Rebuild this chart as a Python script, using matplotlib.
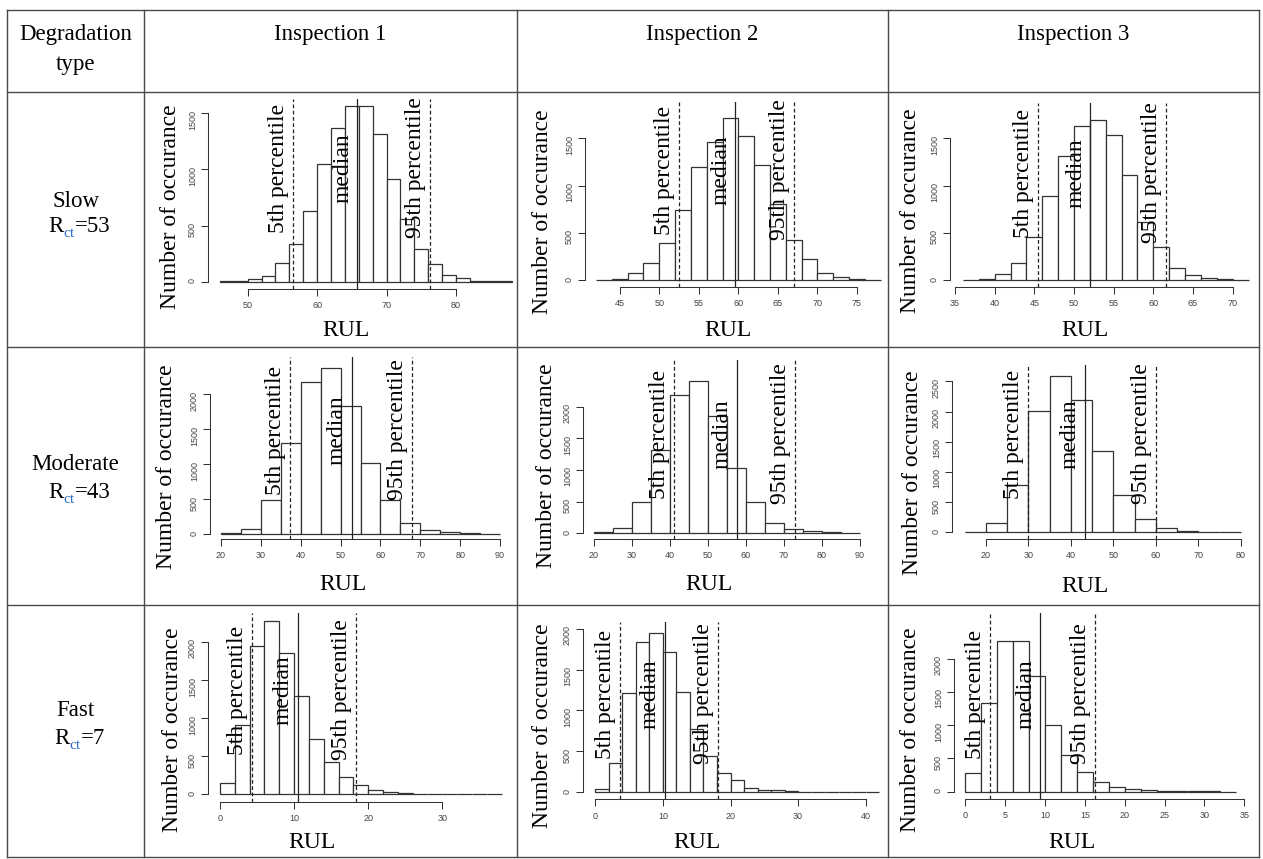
"""RUL histograms per degradation type and inspection, laid out as a table."""

import matplotlib
matplotlib.use("Agg")
import matplotlib.pyplot as plt
from matplotlib.transforms import blended_transform_factory

# ---------------------------------------------------------------------------
# Data
# ---------------------------------------------------------------------------
ROW_NAMES = ["Slow", "Moderate", "Fast"]
ROW_RCT = [53, 43, 7]
COL_NAMES = ["Inspection 1", "Inspection 2", "Inspection 3"]
PCT_LABELS = ["5th percentile", "median", "95th percentile"]

SLOW_1_START, SLOW_1_WIDTH = 46, 2
SLOW_1_COUNTS = [2, 5, 20, 50, 170, 336, 634, 1045, 1366, 1563, 1569, 1312,
                 911, 562, 295, 158, 60, 30, 9, 4, 2]
SLOW_1_PCT = [56.5, 65.75, 76.2]
SLOW_1_XTICKS = [50, 60, 70, 80]
SLOW_1_YTICKS = [0, 500, 1000, 1500]

SLOW_2_START, SLOW_2_WIDTH = 42, 2
SLOW_2_COUNTS = [5, 12, 70, 176, 388, 741, 1193, 1461, 1711, 1528, 1217, 800,
                 420, 219, 74, 28, 10, 3]
SLOW_2_PCT = [52.5, 59.6, 67.0]
SLOW_2_XTICKS = [45, 50, 55, 60, 65, 70, 75]
SLOW_2_YTICKS = [0, 500, 1000, 1500]

SLOW_3_START, SLOW_3_WIDTH = 36, 2
SLOW_3_COUNTS = [3, 10, 64, 180, 459, 889, 1316, 1627, 1690, 1531, 1115, 617,
                 346, 124, 49, 18, 7, 3]
SLOW_3_PCT = [45.4, 52.06, 61.6]
SLOW_3_XTICKS = [35, 40, 45, 50, 55, 60, 65, 70]
SLOW_3_YTICKS = [0, 500, 1000, 1500]

MOD_1_START, MOD_1_WIDTH = 20, 5
MOD_1_COUNTS = [14, 81, 486, 1300, 2181, 2371, 1829, 1024, 495, 162, 67, 29, 14, 5]
MOD_1_PCT = [37.4, 52.8, 67.9]
MOD_1_XTICKS = [20, 30, 40, 50, 60, 70, 80, 90]
MOD_1_YTICKS = [0, 500, 1000, 1500, 2000]

MOD_2_START, MOD_2_WIDTH = 20, 5
MOD_2_COUNTS = [16, 89, 489, 1311, 2189, 2400, 1847, 1026, 500, 158, 74, 32, 16, 5]
MOD_2_PCT = [41.1, 57.7, 73.1]
MOD_2_XTICKS = [20, 30, 40, 50, 60, 70, 80, 90]
MOD_2_YTICKS = [0, 500, 1000, 1500, 2000]

MOD_3_START, MOD_3_WIDTH = 15, 5
MOD_3_COUNTS = [11, 160, 784, 2009, 2588, 2191, 1347, 618, 226, 77, 28, 11, 5]
MOD_3_PCT = [30.0, 43.2, 60.0]
MOD_3_XTICKS = [20, 30, 40, 50, 60, 70, 80]
MOD_3_YTICKS = [0, 500, 1000, 1500, 2000, 2500]

FAST_1_START, FAST_1_WIDTH = 0, 2
FAST_1_COUNTS = [149, 910, 1943, 2276, 1860, 1291, 726, 420, 223, 127, 53, 26,
                 18, 9, 5, 2, 1, 1, 1]
FAST_1_PCT = [4.36, 10.5, 18.3]
FAST_1_XTICKS = [0, 10, 20, 30]
FAST_1_YTICKS = [0, 500, 1000, 1500, 2000]

FAST_2_START, FAST_2_WIDTH = 0, 2
FAST_2_COUNTS = [33, 355, 1216, 1841, 1943, 1718, 1224, 767, 441, 229, 143, 49,
                 29, 24, 12, 5, 3, 2, 2, 1, 1]
FAST_2_PCT = [3.6, 10.26, 18.15]
FAST_2_XTICKS = [0, 10, 20, 30, 40]
FAST_2_YTICKS = [0, 500, 1000, 1500, 2000]

FAST_3_START, FAST_3_WIDTH = 0, 2
FAST_3_COUNTS = [276, 1328, 2271, 2266, 1739, 1003, 551, 301, 150, 65, 35, 20,
                 15, 10, 5, 4, 2]
FAST_3_PCT = [3.14, 9.41, 16.3]
FAST_3_XTICKS = [0, 5, 10, 15, 20, 25, 30, 35]
FAST_3_YTICKS = [0, 500, 1000, 1500, 2000]

# ---------------------------------------------------------------------------
# Layout (pixels, origin top-left) and style
# ---------------------------------------------------------------------------
W, H = 1263, 859
X_LINES = [7, 144, 517, 888, 1259]
Y_LINES = [10, 92, 347, 605, 857]

SERIF = ["Liberation Serif", "DejaVu Serif"]
SANS = ["Liberation Sans", "DejaVu Sans"]
EDGE = "#333333"
GRID = "#4a4a4a"
SUB_BLUE = "#2e6fc4"
FS_BIG = 17
FS_HEAD = 16.5
FS_SUB = 11

# per panel: x scale ref (x_a, px_a, x_b, px_b), y scale ref (px of 0, y_b, px of y_b),
# plot box (left, top, right, bottom), ylabel centre, xlabel centre, label centre y
LAYOUT = [
    dict(xref=(50, 247.7, 80, 456.0), yref=(281.7, 1500, 113.3), box=(208, 99, 515, 289),
         ylab=(170, 207), xlab=(346, 331), tcy=168),
    dict(xref=(45, 619.7, 75, 857.0), yref=(280.0, 1500, 138.3), box=(585, 102, 886, 287),
         ylab=(542, 212), xlab=(728, 330), tcy=170),
    dict(xref=(35, 955.0, 70, 1232.7), yref=(280.0, 1500, 138.3), box=(950, 103, 1256, 287),
         ylab=(911, 211), xlab=(1085, 330), tcy=173),
    dict(xref=(20, 221.0, 90, 500.0), yref=(534.3, 2000, 394.3), box=(210, 357, 515, 539),
         ylab=(167, 467), xlab=(343, 585), tcy=430),
    dict(xref=(20, 593.6, 90, 859.7), yref=(533.3, 2000, 406.7), box=(583, 360, 886, 539),
         ylab=(546, 466), xlab=(709, 584), tcy=434),
    dict(xref=(20, 986.0, 80, 1240.8), yref=(532.3, 2500, 381.3), box=(952, 365, 1256, 539),
         ylab=(913, 473), xlab=(1085, 587), tcy=434),
    dict(xref=(0, 220.0, 30, 442.3), yref=(794.3, 2000, 642.0), box=(208, 613, 515, 801.7),
         ylab=(173, 730), xlab=(312, 843), tcy=690),
    dict(xref=(0, 595.3, 40, 865.7), yref=(792.0, 2000, 628.7), box=(583, 622, 886, 799.3),
         ylab=(543, 726), xlab=(697, 843), tcy=694),
    dict(xref=(0, 965.3, 35, 1244.3), yref=(791.7, 2000, 658.7), box=(954, 613, 1256, 799),
         ylab=(911, 730), xlab=(1072, 843), tcy=694),
]

PANELS = [
    (SLOW_1_START, SLOW_1_WIDTH, SLOW_1_COUNTS, SLOW_1_PCT, SLOW_1_XTICKS, SLOW_1_YTICKS),
    (SLOW_2_START, SLOW_2_WIDTH, SLOW_2_COUNTS, SLOW_2_PCT, SLOW_2_XTICKS, SLOW_2_YTICKS),
    (SLOW_3_START, SLOW_3_WIDTH, SLOW_3_COUNTS, SLOW_3_PCT, SLOW_3_XTICKS, SLOW_3_YTICKS),
    (MOD_1_START, MOD_1_WIDTH, MOD_1_COUNTS, MOD_1_PCT, MOD_1_XTICKS, MOD_1_YTICKS),
    (MOD_2_START, MOD_2_WIDTH, MOD_2_COUNTS, MOD_2_PCT, MOD_2_XTICKS, MOD_2_YTICKS),
    (MOD_3_START, MOD_3_WIDTH, MOD_3_COUNTS, MOD_3_PCT, MOD_3_XTICKS, MOD_3_YTICKS),
    (FAST_1_START, FAST_1_WIDTH, FAST_1_COUNTS, FAST_1_PCT, FAST_1_XTICKS, FAST_1_YTICKS),
    (FAST_2_START, FAST_2_WIDTH, FAST_2_COUNTS, FAST_2_PCT, FAST_2_XTICKS, FAST_2_YTICKS),
    (FAST_3_START, FAST_3_WIDTH, FAST_3_COUNTS, FAST_3_PCT, FAST_3_XTICKS, FAST_3_YTICKS),
]


def draw_panel(fig, bg, panel, lay):
    start, width, counts, pct, xticks, yticks = panel
    xa, pxa, xb, pxb = lay["xref"]
    py0, yb, pyb = lay["yref"]
    left, top, right, bottom = lay["box"]
    sx = (pxb - pxa) / (xb - xa)
    sy = (py0 - pyb) / yb

    ax = fig.add_axes([left / W, 1 - bottom / H, (right - left) / W, (bottom - top) / H])
    ax.set_xlim(xa + (left - pxa) / sx, xa + (right - pxa) / sx)
    ax.set_ylim((py0 - bottom) / sy, (py0 - top) / sy)
    ax.patch.set_visible(False)

    edges = [start + i * width for i in range(len(counts))]
    ax.bar(edges, counts, width=width, align="edge", facecolor="white",
           edgecolor=EDGE, linewidth=0.9, zorder=2)

    trans = blended_transform_factory(ax.transData, bg.transData)
    for i, (v, lab) in enumerate(zip(pct, PCT_LABELS)):
        ls = "-" if i == 1 else (0, (3, 2))
        ax.axvline(v, color="#222222", lw=0.9, ls=ls, zorder=3)
        ax.annotate(lab, xy=(v, lay["tcy"]), xycoords=trans, xytext=(-4, 0),
                    textcoords="offset pixels", rotation=90, ha="right", va="center",
                    fontsize=FS_BIG, family=SERIF, annotation_clip=False, zorder=5)

    ax.set_xticks(xticks)
    ax.set_yticks(yticks)
    for s in ("top", "right"):
        ax.spines[s].set_visible(False)
    for s in ("left", "bottom"):
        ax.spines[s].set_color(EDGE)
        ax.spines[s].set_linewidth(0.75)
    ax.spines["left"].set_bounds(yticks[0], yticks[-1])
    ax.spines["bottom"].set_bounds(xticks[0], xticks[-1])
    ax.tick_params(length=5, width=0.75, color=EDGE, labelsize=6.5, labelcolor="#444444")
    ax.tick_params(axis="x", pad=4)
    ax.tick_params(axis="y", pad=3, labelrotation=90)

    bg.text(*lay["ylab"], "Number of occurance", rotation=90, ha="center", va="center",
            fontsize=FS_BIG, family=SERIF)
    bg.text(*lay["xlab"], "RUL", ha="center", va="center", fontsize=FS_BIG, family=SERIF)


def draw_rct(bg, cx, base, value):
    # "R" + blue subscript "ct" + "=value", centred on cx
    px = FS_HEAD * 100 / 72
    px_sub = FS_SUB * 100 / 72
    w_r = 0.667 * px
    w_ct = 0.722 * px_sub
    w_rest = (0.564 + 0.5 * len(str(value))) * px
    x0 = cx - (w_r + w_ct + w_rest) / 2
    bg.text(x0, base, "R", ha="left", va="baseline", fontsize=FS_HEAD, family=SERIF)
    bg.text(x0 + w_r, base + 5, "ct", ha="left", va="baseline", fontsize=FS_SUB,
            family=SERIF, color=SUB_BLUE)
    bg.text(x0 + w_r + w_ct, base, f"={value}", ha="left", va="baseline",
            fontsize=FS_HEAD, family=SERIF)


def main():
    plt.rcParams["font.family"] = SANS
    fig = plt.figure(figsize=(W / 100, H / 100), dpi=100)
    bg = fig.add_axes([0, 0, 1, 1])
    bg.set_xlim(0, W)
    bg.set_ylim(H, 0)
    bg.axis("off")

    # ── table grid ──────────────────────────────────────────────────────
    for y in Y_LINES:
        bg.plot([X_LINES[0], X_LINES[-1]], [y, y], color=GRID, lw=1.0)
    for x in X_LINES:
        bg.plot([x, x], [Y_LINES[0], Y_LINES[-1]], color=GRID, lw=1.0)

    # ── header ──────────────────────────────────────────────────────────
    c0 = (X_LINES[0] + X_LINES[1]) / 2
    bg.text(c0, 40, "Degradation", ha="center", va="baseline", fontsize=FS_HEAD, family=SERIF)
    bg.text(c0, 70, "type", ha="center", va="baseline", fontsize=FS_HEAD, family=SERIF)
    for j, name in enumerate(COL_NAMES):
        cx = (X_LINES[j + 1] + X_LINES[j + 2]) / 2
        bg.text(cx, 40, name, ha="center", va="baseline", fontsize=FS_HEAD, family=SERIF)

    # ── row labels ──────────────────────────────────────────────────────
    row_base = [(207, 232), (470, 498), (716, 744)]
    for name, rct, (b1, b2) in zip(ROW_NAMES, ROW_RCT, row_base):
        bg.text(c0, b1, name, ha="center", va="baseline", fontsize=FS_HEAD, family=SERIF)
        draw_rct(bg, c0 + 4, b2, rct)

    # ── histograms ──────────────────────────────────────────────────────
    for panel, lay in zip(PANELS, LAYOUT):
        draw_panel(fig, bg, panel, lay)

    fig.savefig("out.png", dpi=100, facecolor="white")
    plt.close(fig)


if __name__ == "__main__":
    main()
